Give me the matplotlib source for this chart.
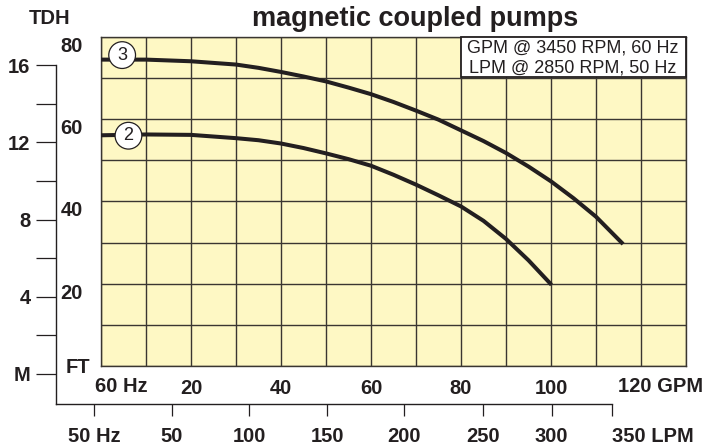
import matplotlib
matplotlib.use("Agg")
import matplotlib.pyplot as plt
from matplotlib.patches import Rectangle

# pump curves: flow in GPM (60 Hz) vs head in feet
gpm_3 = [0, 10, 20, 30, 35, 40, 45, 50, 55, 60, 65, 70, 75, 80, 85, 90, 95, 100, 105, 110, 115.7]
tdh_3 = [74.5, 74.5, 74.1, 73.3, 72.5, 71.5, 70.4, 69.2, 67.7, 66.1, 64.2, 62.1, 59.9, 57.3,
         54.7, 51.8, 48.5, 44.9, 40.8, 36.3, 30.0]
gpm_2 = [0, 10, 20, 30, 35, 40, 45, 50, 55, 60, 65, 70, 75, 80, 85, 90, 95, 99.8]
tdh_2 = [56.1, 56.3, 56.2, 55.4, 54.9, 54.1, 53.0, 51.7, 50.3, 48.7, 46.5, 44.1, 41.5, 38.8,
         35.3, 30.9, 25.7, 20.1]

gpm_ticks = [20, 40, 60, 80, 100]
ft_ticks = [20, 40, 60, 80]
m_ticks = [0, 4, 8, 12, 16]
m_labels = ["M", "4", "8", "12", "16"]
m_minor = [2, 6, 10, 14]
lpm_labels = ["50 Hz", "50", "100", "150", "200", "250", "300", "350 LPM"]
# the LPM scale is drawn unevenly; tick spots given in GPM units of the grid
lpm_pos = [-1.56, 15.8, 32.95, 50.3, 67.5, 85.0, 100.3, 113.8]

W, H = 708, 448
ink = "#231f20"

plt.rcParams["font.family"] = ["Liberation Sans", "DejaVu Sans"]
plt.rcParams["font.weight"] = "bold"
plt.rcParams["font.size"] = 14.5
plt.rcParams["text.color"] = ink
plt.rcParams["xtick.color"] = ink
plt.rcParams["ytick.color"] = ink


def box(x0, y0, x1, y1):
    # pixel box (from top-left) -> figure fraction rect
    return [x0 / W, 1 - y1 / H, (x1 - x0) / W, (y1 - y0) / H]


fig = plt.figure(figsize=(W / 100, H / 100), dpi=100)

# metre scale on the left and LPM scale at the bottom
axm = fig.add_axes(box(56, 65.3, 612.3, 404))
axm.patch.set_visible(False)
axm.spines["top"].set_visible(False)
axm.spines["right"].set_visible(False)
for s in ("left", "bottom"):
    axm.spines[s].set_linewidth(1.0)
    axm.spines[s].set_color(ink)
axm.set_ylim(-1.56, 16)
axm.set_xlim(-10.02, lpm_pos[-1])
axm.set_yticks(m_ticks, m_labels)
axm.set_yticks(m_minor, minor=True)
axm.set_xticks(lpm_pos, lpm_labels)
axm.tick_params(axis="y", which="both", direction="out", length=14.4, width=0.9, pad=4)
axm.tick_params(axis="x", direction="out", length=8.6, width=0.9, pad=8)
axm.get_xticklabels()[-1].set_ha("left")

# the grid chart
ax = fig.add_axes(box(101, 37, 686, 366))
ax.set_facecolor("#fef8c4")
ax.set_xlim(0, 130)
ax.set_ylim(0, 80)
ax.set_xticks(range(0, 131, 10), minor=True)
ax.set_yticks(range(0, 81, 10), minor=True)
ax.set_xticks(gpm_ticks)
ax.set_yticks(ft_ticks)
ax.grid(which="both", color="#3a3631", lw=1.0)
ax.set_axisbelow(True)
for s in ax.spines.values():
    s.set_color("#3a3631")
    s.set_linewidth(1.0)
ax.tick_params(which="both", length=0)
ax.tick_params(axis="x", pad=9)
ax.tick_params(axis="y", pad=13)
plt.setp(ax.get_yticklabels(), va="top")

ax.plot(gpm_3, tdh_3, color=ink, lw=2.9, solid_joinstyle="round", zorder=3)
ax.plot(gpm_2, tdh_2, color=ink, lw=2.9, solid_joinstyle="round", zorder=3)

circ = dict(boxstyle="circle,pad=0.27", fc="white", ec=ink, lw=0.9)
ax.text(4.7, 75.6, "3", ha="center", va="center", fontsize=13, fontweight="normal", bbox=circ, zorder=5)
ax.text(6.1, 56.0, "2", ha="center", va="center", fontsize=13, fontweight="normal", bbox=circ, zorder=5)

# speed box in the top right corner
ax.add_patch(Rectangle((0.6154, 0.878), 0.3846, 0.122, transform=ax.transAxes,
                       fc="white", ec=ink, lw=1.3, zorder=4, clip_on=False))
ax.text(0.807, 0.9666, "GPM @ 3450 RPM, 60 Hz", transform=ax.transAxes, ha="center", va="center",
        fontsize=13, fontweight="normal", zorder=5)
ax.text(0.807, 0.9058, "LPM @ 2850 RPM, 50 Hz", transform=ax.transAxes, ha="center", va="center",
        fontsize=13, fontweight="normal", zorder=5)

# extra axis words
ax.annotate("60 Hz", xy=(0, 0), xytext=(-4.3, -14.4), textcoords="offset points",
            ha="left", va="center", annotation_clip=False)
ax.annotate("120 GPM", xy=(120, 0), xytext=(-16.6, -14.4), textcoords="offset points",
            ha="left", va="center", annotation_clip=False)
ax.annotate("FT", xy=(0, 0), xytext=(-7.9, -1.4), textcoords="offset points",
            ha="right", va="center", annotation_clip=False)

fig.text(50 / W, 1 - 18 / H, "TDH", ha="center", va="center", fontsize=14.5)
fig.text(415 / W, 1 - 26 / H, "magnetic coupled pumps", ha="center", va="baseline", fontsize=19.5)

fig.savefig("out.png", dpi=100)
